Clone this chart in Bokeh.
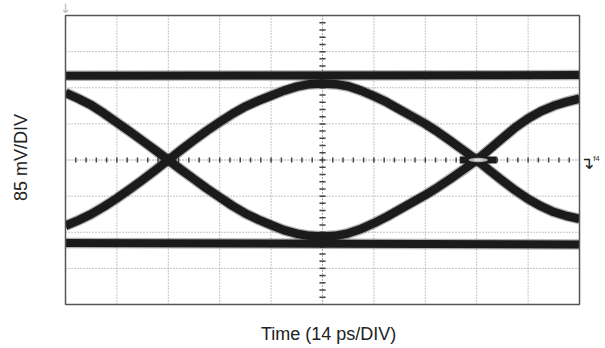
import math
from bokeh.plotting import figure
from bokeh.models import Range1d
from bokeh.core.properties import value
from bokeh.embed import file_html
from bokeh.resources import INLINE

# ---- data (in divisions) ----
time_div = [0, 0.25, 0.5, 0.75, 1, 1.25, 1.5, 1.75, 2, 2.25, 2.5, 2.75, 3, 3.25, 3.5, 3.75,
            4, 4.25, 4.5, 4.75, 5, 5.25, 5.5, 5.75, 6, 6.25, 6.5, 6.75, 7, 7.25, 7.5, 7.75,
            8, 8.25, 8.5, 8.75, 9, 9.25, 9.5, 9.75, 10]
rise_first = [-1.82, -1.67, -1.50, -1.29, -1.06, -0.81, -0.55, -0.28, 0.0, 0.28, 0.55, 0.81,
              1.05, 1.28, 1.48, 1.64, 1.78, 1.92, 2.03, 2.10, 2.12, 2.10, 2.04, 1.92, 1.77,
              1.60, 1.40, 1.20, 1.00, 0.77, 0.52, 0.26, 0.0, -0.29, -0.57, -0.84, -1.08,
              -1.28, -1.44, -1.55, -1.63]
fall_first = [1.86, 1.70, 1.52, 1.29, 1.04, 0.79, 0.53, 0.27, 0.0, -0.27, -0.53, -0.79,
              -1.03, -1.27, -1.48, -1.65, -1.80, -1.94, -2.04, -2.10, -2.12, -2.10, -2.03,
              -1.91, -1.75, -1.57, -1.37, -1.17, -0.97, -0.75, -0.51, -0.26, 0.0, 0.30, 0.60,
              0.90, 1.15, 1.35, 1.50, 1.61, 1.70]
level_x = [0, 10]
high_level = [2.33, 2.35]
low_level = [-2.30, -2.34]
crossing_t = [8.03]
crossing_v = [0.0]
grid_x = [1, 2, 3, 4, 6, 7, 8, 9]
grid_y = [-3, -2, -1, 1, 2, 3]
x_label = "Time (14 ps/DIV)"
y_label = "85 mV/DIV"

PX_X = 51.4     # pixels per horizontal division
PX_Y = 36.125   # pixels per vertical division
W, H = 600, 346
x0 = -65 / PX_X
y_top = 159.5 / PX_Y

p = figure(width=W, height=H, output_backend="svg", toolbar_location=None,
           x_range=Range1d(x0, x0 + W / PX_X), y_range=Range1d(y_top - H / PX_Y, y_top),
           x_axis_type=None, y_axis_type=None, min_border=0)
p.outline_line_color = None
p.background_fill_color = "white"
p.border_fill_color = "white"

# grid
p.multi_line(xs=[[g, g] for g in grid_x], ys=[[-4, 4] for _ in grid_x],
             line_color="#8a8a8a", line_width=1, line_dash="1 2")
p.multi_line(xs=[[0, 10] for _ in grid_y], ys=[[g, g] for g in grid_y],
             line_color="#8a8a8a", line_width=1, line_dash="1 2")
# center axes with minor ticks
p.line([0, 10], [0, 0], line_color="#555555", line_width=1, line_dash="1 2")
p.line([5, 5], [-4, 4], line_color="#555555", line_width=1, line_dash="1 2")
mt_x = [i * 0.2 for i in range(1, 50)]
p.segment(x0=mt_x, y0=[-0.07] * len(mt_x), x1=mt_x, y1=[0.07] * len(mt_x),
          line_color="#444444", line_width=1.5)
mt_y = [-4 + i * 0.2 for i in range(1, 40)]
p.segment(x0=[4.94] * len(mt_y), y0=mt_y, x1=[5.06] * len(mt_y), y1=mt_y,
          line_color="#444444", line_width=1.5)

# traces: fuzzy halo then solid core
for ys in (rise_first, fall_first):
    p.line(time_div, ys, line_color="#222222", line_width=11, line_alpha=0.35, line_join="round")
for ys in (high_level, low_level):
    p.line(level_x, ys, line_color="#222222", line_width=10.5, line_alpha=0.35)
for ys in (rise_first, fall_first):
    p.line(time_div, ys, line_color="#1b1b1b", line_width=8.5, line_join="round")
for ys in (high_level, low_level):
    p.line(level_x, ys, line_color="#1b1b1b", line_width=8)

# crossing histogram highlight
p.rect(x=crossing_t, y=crossing_v, width=0.72, height=0.2, fill_color="#1b1b1b", line_color=None)
p.ellipse(x=crossing_t, y=crossing_v, width=0.38, height=0.12, fill_color="#b0b0b0", line_color=None)
p.ellipse(x=crossing_t, y=crossing_v, width=0.18, height=0.05, fill_color="#dddddd", line_color=None)

# mask the overhang of thick lines outside the screen
p.quad(left=[x0, 10], right=[0, x0 + W / PX_X], bottom=[-6, -6], top=[6, 6],
       fill_color="white", line_color=None)

# screen border
p.quad(left=[0], right=[10], bottom=[-4], top=[4], fill_color=None,
       line_color="#555555", line_width=1.5)

# labels
p.text(x=[5.12], y=[-4.83], text=[x_label], text_align="center", text_baseline="middle",
       text_font=value("Liberation Sans"), text_font_size="18px", text_color="#222222")
p.text(x=[-0.86], y=[0.07], text=[y_label], text_align="center", text_baseline="middle",
       angle=math.pi / 2, text_font=value("Liberation Sans"), text_font_size="18px",
       text_color="#222222")
# trigger markers
p.text(x=[10.15], y=[-0.08], text=["\u21b4"], text_align="center", text_baseline="middle",
       text_font=value("DejaVu Sans"), text_font_size="17px", text_color="#222222")
p.text(x=[10.33], y=[0.03], text=["f4"], text_align="center", text_baseline="middle",
       text_font=value("Liberation Sans"), text_font_size="8px", text_color="#333333")
p.text(x=[0], y=[4.2], text=["\u2193"], text_align="center", text_baseline="middle",
       text_font=value("DejaVu Sans"), text_font_size="13px", text_color="#bbbbbb")

open("out.html", "w").write(file_html(p, INLINE))
